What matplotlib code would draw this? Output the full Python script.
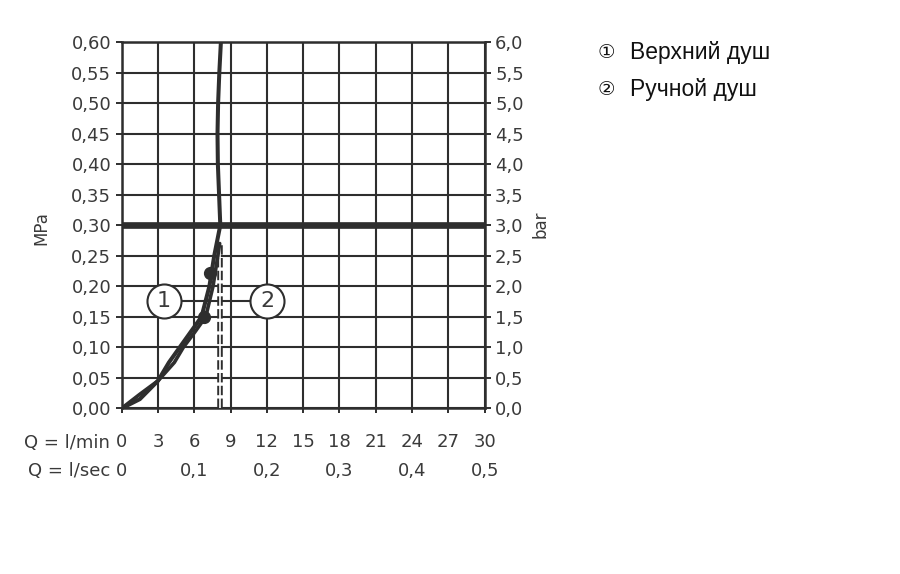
import matplotlib
matplotlib.use("Agg")
import matplotlib.pyplot as plt
from matplotlib.ticker import FuncFormatter, MultipleLocator

# flow (l/min) vs pressure (MPa)
overhead_flow = [0, 1.5, 3.0, 3.9, 4.8, 5.7, 6.6, 7.25, 7.65, 7.95, 8.15, 8.05, 7.95, 7.92, 7.97, 8.07, 8.2]
overhead_pressure = [0, 0.015, 0.045, 0.075, 0.10, 0.125, 0.15, 0.20, 0.25, 0.28, 0.30, 0.35, 0.40, 0.45, 0.50, 0.55, 0.60]
hand_flow = [0, 1.5, 3.0, 4.35, 5.1, 6.05, 6.95, 7.55, 7.95, 8.1]
hand_pressure = [0, 0.023, 0.045, 0.075, 0.10, 0.125, 0.15, 0.20, 0.25, 0.27]

dot_flow = [6.8, 7.3]
dot_pressure = [0.15, 0.222]

limit_flow = 8.1          # dashed double line
limit_pressure = 0.27
rated_pressure = 0.30     # thick horizontal line

label_flow = [3.5, 12.05]
label_pressure = 0.176
label_text = ["1", "2"]

lmin_ticks = list(range(0, 31, 3))
lsec_ticks = [0, 0.1, 0.2, 0.3, 0.4, 0.5]
legend_marks = ["\u2460", "\u2461"]
legend_names = ["Верхний душ", "Ручной душ"]

ink = "#2e2e2e"
txt = "#3a3a3a"

fig = plt.figure(figsize=(9, 5.74), dpi=100)
ax = fig.add_axes([0.1352, 0.2887, 0.4033, 0.638])

ax.set_xlim(0, 30)
ax.set_ylim(0, 0.6)
ax.set_xticks(lmin_ticks)
ax.yaxis.set_major_locator(MultipleLocator(0.05))
ax.yaxis.set_major_formatter(FuncFormatter(lambda v, _: f"{v:.2f}".replace(".", ",")))
ax.grid(True, color=ink, lw=1.5, zorder=1)
ax.set_axisbelow(True)
for s in ax.spines.values():
    s.set_color(ink)
    s.set_linewidth(1.8)
ax.tick_params(axis="y", direction="out", length=4.5, width=1.4, color=ink,
               labelsize=13, labelcolor=txt, pad=3)
ax.tick_params(axis="x", direction="out", length=3.5, width=1.4, color=ink,
               labelsize=13, labelcolor=txt, pad=14)

# right axis in bar
ax2 = ax.twinx()
ax2.set_ylim(0, 6)
ax2.yaxis.set_major_locator(MultipleLocator(0.5))
ax2.yaxis.set_major_formatter(FuncFormatter(lambda v, _: f"{v:.1f}".replace(".", ",")))
ax2.tick_params(axis="y", direction="out", length=4.5, width=1.4, color=ink,
                labelsize=13, labelcolor=txt, pad=3)
for s in ax2.spines.values():
    s.set_visible(False)

# second row of flow labels in l/sec
sec = ax.secondary_xaxis("bottom", functions=(lambda q: q / 60, lambda s: s * 60))
sec.set_xticks(lsec_ticks)
sec.xaxis.set_major_formatter(FuncFormatter(lambda v, _: "0" if v == 0 else f"{v:.1f}".replace(".", ",")))
sec.tick_params(length=0, labelsize=13, labelcolor=txt, pad=38.5)
sec.spines["bottom"].set_visible(False)

ax.text(-0.032, -0.096, "Q = l/min", transform=ax.transAxes, ha="right", va="center",
        fontsize=13, color=txt)
ax.text(-0.032, -0.172, "Q = l/sec", transform=ax.transAxes, ha="right", va="center",
        fontsize=13, color=txt)
ax.text(-0.22, 0.492, "MPa", transform=ax.transAxes, rotation=90, ha="center", va="center",
        fontsize=12, color=txt)
ax.text(1.155, 0.502, "bar", transform=ax.transAxes, rotation=90, ha="center", va="center",
        fontsize=12, color=txt)

# thick rated-pressure line
ax.axhline(rated_pressure, color=ink, lw=4.8, zorder=3)

# dashed double line (dark dashes with a white core)
ax.plot([limit_flow, limit_flow], [0, limit_pressure], color=ink, lw=4.0,
        linestyle=(0, (1.7, 0.6)), zorder=3)
ax.plot([limit_flow, limit_flow], [0, limit_pressure], color="white", lw=1.2, zorder=3.1)

# label connector and circles
ax.plot(label_flow, [label_pressure, label_pressure], color=ink, lw=1.5, zorder=2)
ax.plot(label_flow, [label_pressure, label_pressure], "o", ms=24.5, mfc="white", mec=ink,
        mew=1.5, ls="none", zorder=4)
for q, t in zip(label_flow, label_text):
    ax.text(q, label_pressure, t, ha="center", va="center", fontsize=16, color=txt, zorder=5)

# curves
ax.plot(overhead_flow, overhead_pressure, color=ink, lw=2.9, zorder=6, solid_capstyle="round",
        solid_joinstyle="round")
ax.plot(hand_flow, hand_pressure, color=ink, lw=2.6, zorder=6, solid_capstyle="round",
        solid_joinstyle="round")
ax.plot(dot_flow, dot_pressure, "o", color=ink, ms=8.5, zorder=7)

# legend text on the right
for i, (mark, name) in enumerate(zip(legend_marks, legend_names)):
    y = 0.909 - i * 0.065
    fig.text(0.664, y, mark, ha="left", va="center", fontsize=14,
             color="#111111", family=["DejaVu Sans"])
    fig.text(0.700, y, name, ha="left", va="center", fontsize=16.5,
             color="#111111", family=["Liberation Sans", "DejaVu Sans"])

fig.savefig("out.png", dpi=100)
